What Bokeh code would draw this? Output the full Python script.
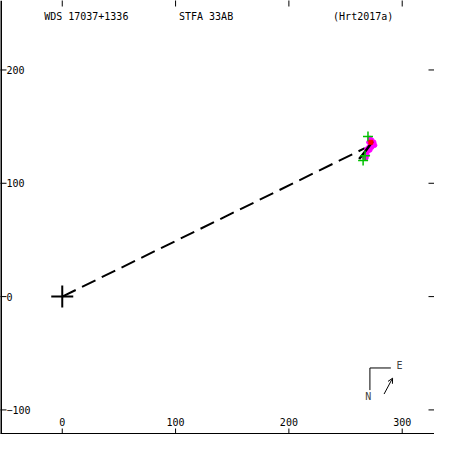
import math
from bokeh.plotting import figure
from bokeh.models import Range1d, Label, Arrow, OpenHead, Span
from bokeh.core.properties import value
from bokeh.embed import file_html
from bokeh.resources import INLINE

# ---- data ----
x_ticks = [0, 100, 200, 300]
y_ticks = [-100, 0, 100, 200]
x_tick_labels = ["0", "100", "200", "300"]
y_tick_labels = ["\u2212100", "0", "100", "200"]

primary_x = [0]
primary_y = [0]

# dashed line from primary to predicted position
link_x = [0, 267]
link_y = [0, 131]

# orbit arc segment
orbit_x = [262, 268, 274]
orbit_y = [121.5, 129, 137]

# measurements
magenta_x = [271.5, 273.2, 274.0, 272.3, 270.6, 268.9, 269.8, 268.1, 267.2, 266.4,
             268.9, 271.5, 273.2, 274.9, 275.7, 268.1, 270.6]
magenta_y = [139.6, 137.9, 135.3, 133.6, 131.9, 130.2, 128.5, 126.8, 125.1, 123.4,
             125.1, 129.4, 131.9, 136.2, 133.6, 122.6, 136.2]
green_x = [269.8, 265.5, 267.2]
green_y = [141.3, 120.0, 124.3]
red_x = [272.3]
red_y = [136.2]

FONT = "DejaVu Sans Mono"
W = 434
X0, X1 = -54.5, 328.5
Y0, Y1 = -121.7, 261.3

p = figure(width=W, height=W, output_backend="svg", toolbar_location=None,
           x_range=Range1d(X0, X1), y_range=Range1d(Y0, Y1),
           min_border=0, x_axis_location=None, y_axis_location=None)
p.grid.visible = False
p.outline_line_color = None
p.background_fill_color = "white"
p.border_fill_color = "white"

# frame lines (left and bottom)
p.add_layout(Span(location=X0, dimension="height", line_color="black", line_width=3))
p.add_layout(Span(location=Y0, dimension="width", line_color="black", line_width=3))

# inward tick marks on all four sides
p.scatter(x=[X0] * len(y_ticks), y=y_ticks, marker="dash", size=12, line_color="black", line_width=1)
p.scatter(x=[X1] * len(y_ticks), y=y_ticks, marker="dash", size=12, line_color="black", line_width=1)
p.scatter(x=x_ticks, y=[Y0] * len(x_ticks), marker="dash", size=12, angle=math.pi / 2,
          line_color="black", line_width=1)
p.scatter(x=x_ticks, y=[Y1] * len(x_ticks), marker="dash", size=12, angle=math.pi / 2,
          line_color="black", line_width=1)

# tick labels inside the frame
p.text(x=[X0] * len(y_ticks), y=y_ticks, text=y_tick_labels,
       x_offset=6, text_baseline="middle", text_align="left",
       text_font=value(FONT), text_font_size="10px", text_color="black")
p.text(x=x_ticks, y=[Y0] * len(x_ticks), text=x_tick_labels,
       y_offset=-9, text_baseline="bottom", text_align="center",
       text_font=value(FONT), text_font_size="10px", text_color="black")

# header
for tx, t in ((-16, "WDS 17037+1336"), (103, "STFA 33AB"), (239, "(Hrt2017a)")):
    p.add_layout(Label(x=tx, y=247.5, text=t, text_font=FONT, text_font_size="10px",
                       text_baseline="middle", text_color="black"))

# marks
p.line(link_x, link_y, line_color="black", line_width=2, line_dash="15 7")
p.scatter(magenta_x, magenta_y, marker="circle", size=4.5, color="#ff00ff")
p.line(orbit_x, orbit_y, line_color="black", line_width=2.5)
p.scatter(green_x, green_y, marker="cross", size=10, line_color="#00c000", line_width=1.5)
p.scatter(red_x, red_y, marker="square", size=4, color="#ff0000")
p.scatter(primary_x, primary_y, marker="cross", size=22, line_color="black", line_width=2)

# compass
p.line([271.5, 290], [-63, -63], line_color="black", line_width=1)
p.line([271.5, 271.5], [-63, -82.5], line_color="black", line_width=1)
p.add_layout(Label(x=295, y=-61, text="E", text_font=FONT, text_font_size="10px",
                   text_baseline="middle", text_align="left"))
p.add_layout(Label(x=270, y=-88, text="N", text_font=FONT, text_font_size="10px",
                   text_baseline="middle", text_align="center"))
p.add_layout(Arrow(x_start=284, y_start=-86, x_end=291.5, y_end=-72, line_width=1,
                   end=OpenHead(size=5, line_width=1)))

open("out.html", "w").write(file_html(p, INLINE))
